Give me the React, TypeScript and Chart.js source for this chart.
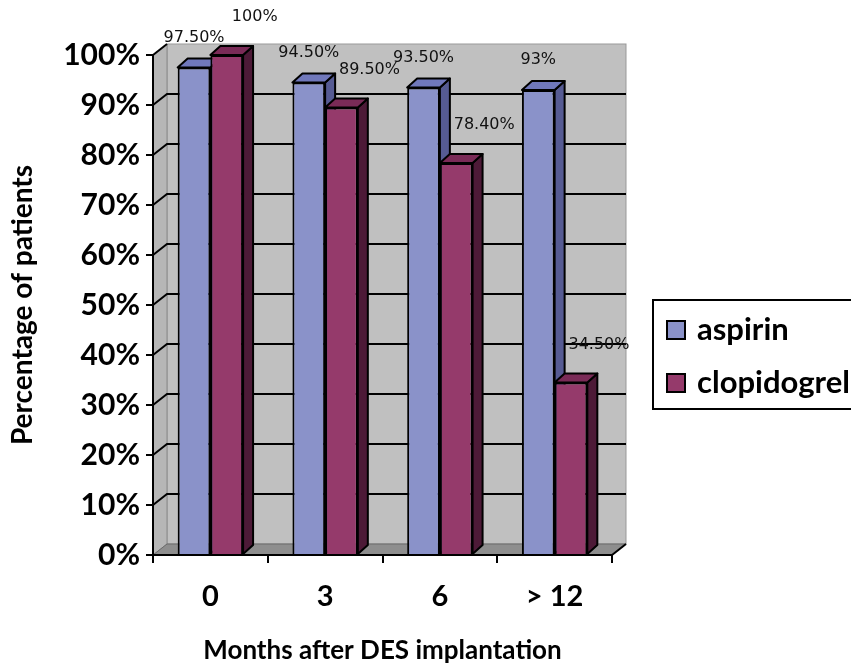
import React, { useEffect, useRef } from 'react';
import { Chart, registerables } from 'chart.js';

Chart.register(...registerables);

const categories = ['0', '3', '6', '> 12'];
const aspirinValues = [97.5, 94.5, 93.5, 93];
const clopidogrelValues = [100, 89.5, 78.4, 34.5];
const seriesNames = ['aspirin', 'clopidogrel'];
const yTickValues = [0, 10, 20, 30, 40, 50, 60, 70, 80, 90, 100];

const FRONT = ['#8a92c9', '#953a6b'];
const SIDE = ['#565b93', '#4d1a37'];
const TOP = ['#7078bb', '#7a2b57'];

const WALL_DX = 14;
const WALL_DY = -11;
const BAR_DX = 10;
const BAR_DY = -9;
const LABEL_OFFSETS = [
  { dx: 0, dy: -30 },
  { dx: 28, dy: -38 },
];

const fmt = (v: number) => (Number.isInteger(v) ? v + '%' : v.toFixed(2) + '%');

const threeD = {
  id: 'threeD',
  beforeDraw(chart: any) {
    const { ctx, chartArea } = chart;
    const y = chart.scales.y;
    const { left, right } = chartArea;
    const top = y.getPixelForValue(100);
    const bottom = y.getPixelForValue(0);
    ctx.save();
    // back wall
    ctx.fillStyle = '#c0c0c0';
    ctx.fillRect(left + WALL_DX, top + WALL_DY, right - left, bottom - top);
    ctx.strokeStyle = '#999';
    ctx.lineWidth = 1;
    ctx.strokeRect(left + WALL_DX, top + WALL_DY, right - left, bottom - top);
    // left wall
    ctx.beginPath();
    ctx.moveTo(left, top);
    ctx.lineTo(left + WALL_DX, top + WALL_DY);
    ctx.lineTo(left + WALL_DX, bottom + WALL_DY);
    ctx.lineTo(left, bottom);
    ctx.closePath();
    ctx.fillStyle = '#b6b6b6';
    ctx.fill();
    ctx.strokeStyle = '#8a8a8a';
    ctx.stroke();
    // floor
    ctx.beginPath();
    ctx.moveTo(left, bottom);
    ctx.lineTo(left + WALL_DX, bottom + WALL_DY);
    ctx.lineTo(right + WALL_DX, bottom + WALL_DY);
    ctx.lineTo(right, bottom);
    ctx.closePath();
    ctx.fillStyle = '#8e8e8e';
    ctx.fill();
    ctx.strokeStyle = '#6a6a6a';
    ctx.stroke();
    // right floor edge
    ctx.beginPath();
    ctx.moveTo(right, bottom);
    ctx.lineTo(right + WALL_DX, bottom + WALL_DY);
    ctx.strokeStyle = '#000';
    ctx.lineWidth = 2;
    ctx.stroke();
    // gridlines
    ctx.strokeStyle = '#000';
    ctx.lineWidth = 2;
    yTickValues.forEach((v) => {
      if (v === 0) return;
      const py = y.getPixelForValue(v);
      ctx.beginPath();
      ctx.moveTo(left, py);
      ctx.lineTo(left + WALL_DX, py + WALL_DY);
      if (v !== 100) ctx.lineTo(right + WALL_DX, py + WALL_DY);
      ctx.stroke();
    });
    ctx.restore();
  },
  beforeDatasetDraw() {
    return false;
  },
  afterDatasetsDraw(chart: any) {
    const { ctx } = chart;
    ctx.save();
    for (let d = 0; d < chart.data.datasets.length; d++) {
      const meta = chart.getDatasetMeta(d);
      meta.data.forEach((el: any) => {
        const { x, y, base, width } = el.getProps(['x', 'y', 'base', 'width'], true);
        const l = x - width / 2;
        const r = x + width / 2;
        el.draw(ctx);
        ctx.lineWidth = 2;
        ctx.strokeStyle = '#000';
        ctx.lineJoin = 'round';
        // side
        ctx.beginPath();
        ctx.moveTo(r, y);
        ctx.lineTo(r + BAR_DX, y + BAR_DY);
        ctx.lineTo(r + BAR_DX, base + BAR_DY);
        ctx.lineTo(r, base);
        ctx.closePath();
        ctx.fillStyle = SIDE[d];
        ctx.fill();
        ctx.stroke();
        // top
        ctx.beginPath();
        ctx.moveTo(l, y);
        ctx.lineTo(l + BAR_DX, y + BAR_DY);
        ctx.lineTo(r + BAR_DX, y + BAR_DY);
        ctx.lineTo(r, y);
        ctx.closePath();
        ctx.fillStyle = TOP[d];
        ctx.fill();
        ctx.stroke();
      });
    }
    // value labels
    ctx.font = '16px "DejaVu Sans"';
    ctx.fillStyle = '#111';
    ctx.textAlign = 'center';
    ctx.textBaseline = 'middle';
    for (let d = 0; d < chart.data.datasets.length; d++) {
      const meta = chart.getDatasetMeta(d);
      const vals = chart.data.datasets[d].data;
      meta.data.forEach((el: any, i: number) => {
        const off = LABEL_OFFSETS[d];
        ctx.fillText(fmt(vals[i]), el.x + off.dx, el.y + off.dy);
      });
    }
    ctx.restore();
  },
  afterDraw(chart: any) {
    const { ctx } = chart;
    ctx.save();
    ctx.lineWidth = 2;
    ctx.strokeStyle = '#000';
    ctx.strokeRect(653, 300, 320, 109);
    ctx.font = 'bold 31px Lato';
    ctx.textBaseline = 'middle';
    ctx.textAlign = 'left';
    chart.data.datasets.forEach((ds: any, d: number) => {
      const cy = 330 + d * 53;
      ctx.fillStyle = FRONT[d];
      ctx.fillRect(667, cy - 9, 18, 18);
      ctx.strokeRect(667, cy - 9, 18, 18);
      ctx.fillStyle = '#000';
      ctx.fillText(ds.label, 697, cy);
    });
    ctx.restore();
  },
};

export default function App() {
  const ref = useRef<HTMLCanvasElement>(null);
  useEffect(() => {
    if (!ref.current) return;
    const chart = new Chart(ref.current, {
      type: 'bar',
      data: {
        labels: categories,
        datasets: [
          { label: seriesNames[0], data: aspirinValues, backgroundColor: FRONT[0], borderColor: '#000', borderWidth: 2 },
          { label: seriesNames[1], data: clopidogrelValues, backgroundColor: FRONT[1], borderColor: '#000', borderWidth: 2 },
        ],
      },
      options: {
        responsive: false,
        animation: false,
        events: [],
        layout: { padding: { left: 0, top: 55, right: 239, bottom: 0 } },
        datasets: { bar: { categoryPercentage: 0.57, barPercentage: 1 } },
        plugins: { legend: { display: false }, tooltip: { enabled: false } },
        scales: {
          x: {
            grid: { drawOnChartArea: false, drawTicks: true, tickLength: 8, color: '#000', lineWidth: 2, offset: true },
            border: { display: true, color: '#000', width: 2 },
            ticks: { font: { family: 'Lato', weight: 'bold', size: 29 }, color: '#000', padding: 16 },
            title: {
              display: true,
              text: 'Months after DES implantation',
              font: { family: 'Lato', weight: 'bold', size: 26 },
              color: '#000',
              padding: { top: 0, bottom: 0 },
            },
            afterFit(scale: any) {
              scale.height = 111;
            },
          },
          y: {
            min: 0,
            max: 100,
            afterBuildTicks(scale: any) {
              scale.ticks = yTickValues.map((v) => ({ value: v }));
            },
            grid: { drawOnChartArea: false, drawTicks: true, tickLength: 7, color: '#000', lineWidth: 2 },
            border: { display: true, color: '#000', width: 2 },
            ticks: {
              font: { family: 'Lato', weight: 'bold', size: 30 },
              color: '#000',
              padding: 6,
              callback: (v: any) => v + '%',
            },
            title: {
              display: true,
              text: 'Percentage of patients',
              font: { family: 'Lato', weight: 'bold', size: 28 },
              color: '#000',
              padding: { top: 6, bottom: 0 },
            },
            afterFit(scale: any) {
              scale.width = 153;
            },
          },
        },
      },
      plugins: [threeD],
    });
    return () => chart.destroy();
  }, []);
  return <canvas ref={ref} width={851} height={666} style={{ position: 'fixed', left: 0, top: 0 }} />;
}
